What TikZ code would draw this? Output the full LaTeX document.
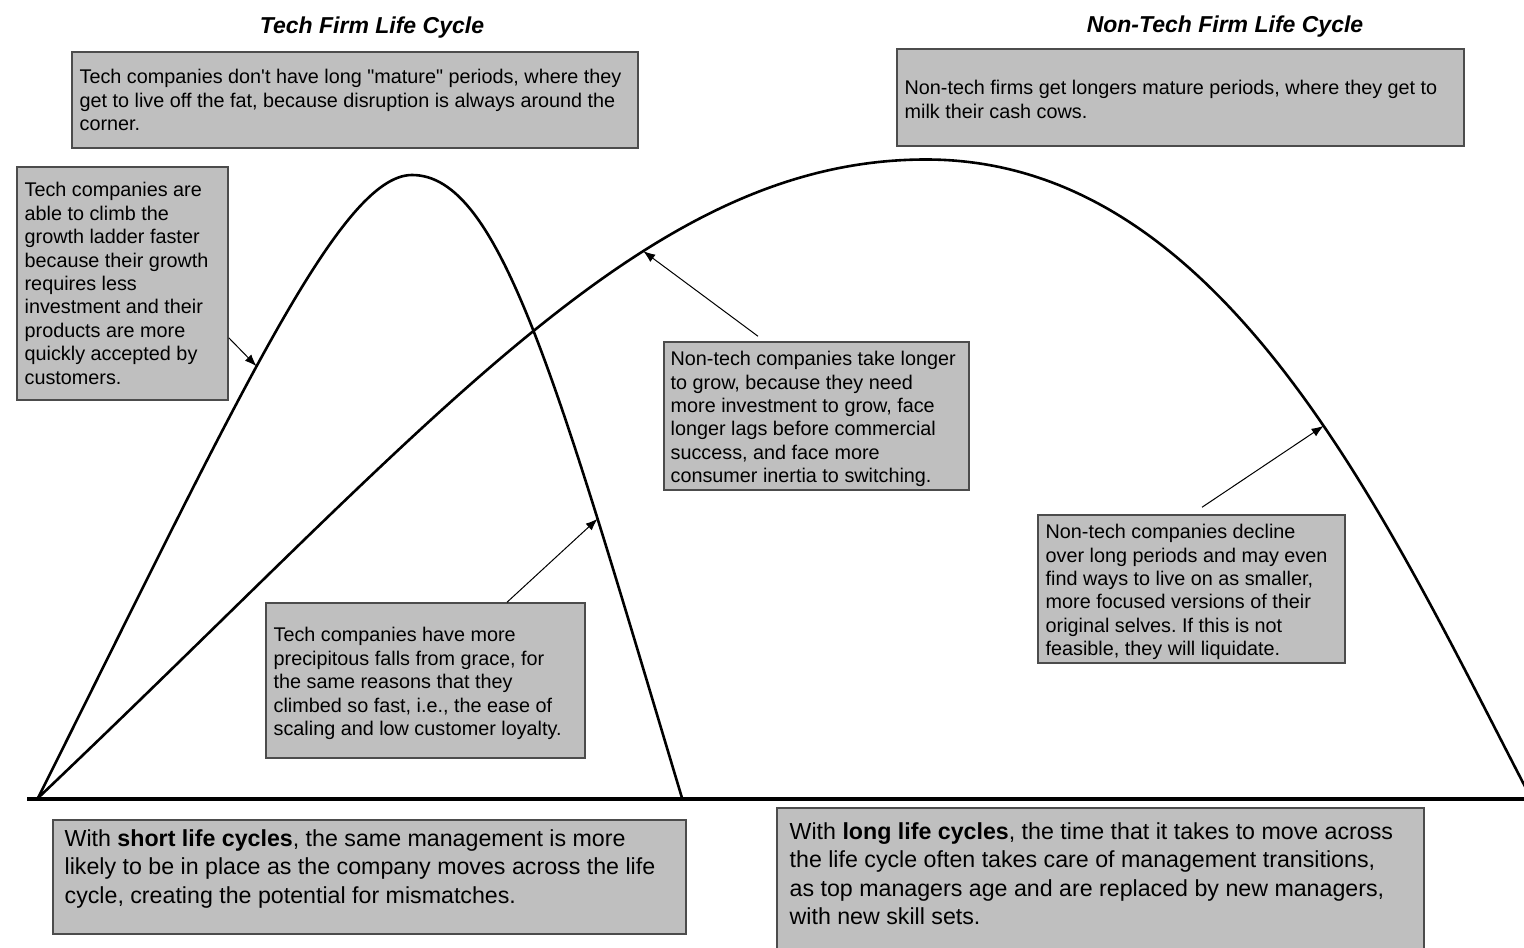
\documentclass[tikz,border=0pt]{standalone}
\usepackage{fontspec}
\setmainfont{Liberation Sans}
\usetikzlibrary{arrows.meta,calc}
\newcommand\strq{\XeTeXglyph\XeTeXcharglyph"22\relax}
\frenchspacing
\begin{document}
\begin{tikzpicture}[x=0.5pt,y=-0.5pt,
  boxshape/.style={draw=black!70, line width=0.75pt, fill=gray!50, inner sep=0pt, rectangle},
  txt/.style={inner sep=0pt, align=left, font=\fontsize{9.9}{11.7}\selectfont},
  bigtxt/.style={inner sep=0pt, align=left, font=\fontsize{11.6}{14.25}\selectfont},
  ttl/.style={inner sep=0pt, font=\fontsize{11.5}{13}\selectfont\bfseries\itshape},
  curve/.style={line width=1.3pt, line join=round},
  base/.style={line width=1.8pt},
  arr/.style={line width=0.5pt, -{Latex[length=6pt,width=4.5pt]}}]
\clip (0,0) rectangle (1524,947);
\fill[white] (0,0) rectangle (1524,947);

% titles
\node[ttl] (title1) at (372,28) {Tech Firm Life Cycle};
\node[ttl] (title2) at (1225,27) {Non-Tech Firm Life Cycle};

% curves
\coordinate (origin) at (38,798);
\coordinate (techpeak) at (412,175);
\coordinate (techend) at (682,798);
\coordinate (ntpeak) at (926,159.5);
\coordinate (ntend) at (1532,800);
\draw[curve] (origin) .. controls (238,398) and (340,175) .. coordinate[pos=0.455] (tip1) (techpeak)
  .. controls (500,175) and (556,378) .. coordinate[pos=0.745] (tip4) (techend);
\draw[curve] (origin) .. controls (438,418) and (646,159.5) .. coordinate[pos=0.645] (tip2) (ntpeak)
  .. controls (1226,159.5) and (1387,521.6) .. coordinate[pos=0.565] (tip3) (ntend);
\draw[base] (27,799) -- (1524,799);

% boxes
\node[boxshape, minimum width=283pt, minimum height=48pt] (b1) at (355,100) {};
\node[boxshape, minimum width=283.5pt, minimum height=48.5pt] (b2) at (1180.5,97.5) {};
\node[boxshape, minimum width=105.5pt, minimum height=116.5pt] (b3) at (122.5,283.5) {};
\node[boxshape, minimum width=152.5pt, minimum height=74pt] (b4) at (816.5,416) {};
\node[boxshape, minimum width=153.5pt, minimum height=74pt] (b5) at (1191.5,589) {};
\node[boxshape, minimum width=159.5pt, minimum height=77.5pt] (b6) at (425.5,680.5) {};
\node[boxshape, minimum width=316.5pt, minimum height=57pt] (b7) at (369.5,877) {};
\node[boxshape, minimum width=323.5pt, minimum height=76pt] (b8) at (1100.5,884) {};

% texts
\node[txt, anchor=west] (t1) at ([xshift=4pt]b1.west) {Tech companies don\textquotesingle t have long \strq mature\strq\ periods, where they\\get to live off the fat, because disruption is always around the\\corner.};
\node[txt, anchor=west] (t2) at ([xshift=4pt,yshift=-1pt]b2.west) {Non-tech firms get longers mature periods, where they get to\\milk their cash cows.};
\node[txt, anchor=west] (t3) at ([xshift=4pt]b3.west) {Tech companies are\\able to climb the\\growth ladder faster\\because their growth\\requires less\\investment and their\\products are more\\quickly accepted by\\customers.};
\node[txt, anchor=west] (t4) at ([xshift=3.5pt,yshift=-1.5pt]b4.west) {Non-tech companies take longer\\to grow, because they need\\more investment to grow, face\\longer lags before commercial\\success, and face more\\consumer inertia to switching.};
\node[txt, anchor=west] (t5) at ([xshift=4pt,yshift=-1.5pt]b5.west) {Non-tech companies decline\\over long periods and may even\\find ways to live on as smaller,\\more focused versions of their\\original selves. If this is not\\feasible, they will liquidate.};
\node[txt, anchor=west] (t6) at ([xshift=4pt,yshift=-1.5pt]b6.west) {Tech companies have more\\precipitous falls from grace, for\\the same reasons that they\\climbed so fast, i.e., the ease of\\scaling and low customer loyalty.};
\node[bigtxt, anchor=north west] (t7) at ([xshift=6pt,yshift=-5pt]b7.north west) {With \textbf{short life cycles}, the same management is more\\likely to be in place as the company moves across the life\\cycle, creating the potential for mismatches.};
\node[bigtxt, anchor=north west] (t8) at ([xshift=6.5pt,yshift=-7.5pt]b8.north west) {With \textbf{long life cycles}, the time that it takes to move across\\the life cycle often takes care of management transitions,\\as top managers age and are replaced by new managers,\\with new skill sets.};

% arrows
\draw[arr] ([yshift=31.5pt]b3.south east) -- (tip1);
\draw[arr] ([xshift=-29.25pt,yshift=2.5pt]b4.north) -- (tip2);
\draw[arr] ([xshift=5.25pt,yshift=3.5pt]b5.north) -- (tip3);
\draw[arr] ([xshift=40.75pt]b6.north) -- (tip4);
\end{tikzpicture}
\end{document}
